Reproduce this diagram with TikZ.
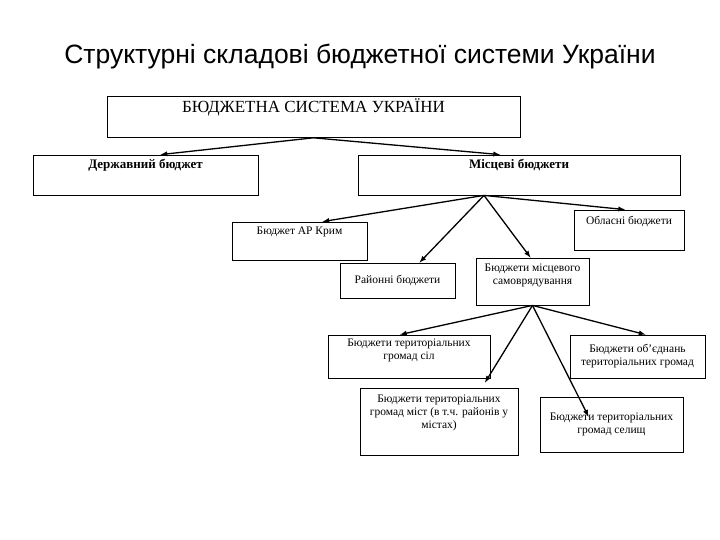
\documentclass[tikz,border=0pt]{standalone}
\usepackage{fontspec}
\setmainfont{Liberation Serif}
\newfontfamily\titlefont{Liberation Sans}
\begin{document}
\begin{tikzpicture}[x=1pt,y=-1pt,
  bx/.style={draw,line width=0.8pt,inner sep=2pt,align=center,font=\fontsize{11.5}{13}\selectfont},
  ar/.style={line width=1.3pt,-latex}]
\useasboundingbox (0,0) rectangle (720,540);
\node[font=\titlefont\fontsize{26.5}{30}\selectfont] (title) at (360,57) {Структурні складові бюджетної системи України};
\node[bx,minimum width=413pt,minimum height=38pt,font=\fontsize{17}{19}\selectfont] (top) at (313.5,117) {БЮДЖЕТНА СИСТЕМА УКРАЇНИ\\[4pt]};
\node[bx,minimum width=225pt,minimum height=40pt,font=\bfseries\fontsize{13}{15}\selectfont] (der) at (145.5,175) {Державний бюджет\\[8pt]};
\node[bx,minimum width=322pt,minimum height=40pt,font=\bfseries\fontsize{13}{15}\selectfont] (mis) at (519,175) {Місцеві бюджети\\[8pt]};
\node[bx,minimum width=135pt,minimum height=38pt] (krym) at (299.5,241) {Бюджет АР Крим\\[8pt]};
\node[bx,minimum width=110pt,minimum height=40pt] (obl) at (629,230) {Обласні бюджети\\[6pt]};
\node[bx,minimum width=115pt,minimum height=35pt] (ray) at (397.5,280.5) {Районні бюджети};
\node[bx,minimum width=113pt,minimum height=47pt] (sam) at (532.5,281.5) {Бюджети місцевого\\самоврядування\\[2pt]};
\node[bx,minimum width=162pt,minimum height=43pt] (sil) at (409,356.5) {Бюджети територіальних\\громад сіл\\[2pt]};
\node[bx,minimum width=135pt,minimum height=43pt] (obj) at (637.5,356.5) {Бюджети об’єднань\\територіальних громад};
\node[bx,minimum width=158pt,minimum height=67pt] (mist) at (439,421.5) {Бюджети територіальних\\громад міст (в т.ч. районів у\\містах)\\[6pt]};
\node[bx,minimum width=143pt,minimum height=55pt] (sel) at (611.5,424.5) {Бюджети територіальних\\громад селищ};
\draw[ar] (top.south) -- ([xshift=15pt]der.north);
\draw[ar] (top.south) -- ([xshift=-19pt]mis.north);
\coordinate (m) at ([xshift=-35pt]mis.south);
\draw[ar] (m) -- ([xshift=23pt]krym.north);
\draw[ar] (m) -- ([xshift=22pt]ray.north);
\draw[ar] (m) -- ([xshift=-2pt]sam.north);
\draw[ar] (m) -- ([xshift=-4pt]obl.north);
\coordinate (s) at (sam.south);
\draw[ar] (s) -- ([xshift=-9pt]sil.north);
\draw[ar] (s) -- ([xshift=46pt,yshift=5pt]mist.north);
\draw[ar] (s) -- ([xshift=-23pt,yshift=-20pt]sel.north);
\draw[ar] (s) -- ([xshift=8pt]obj.north);
\end{tikzpicture}
\end{document}
